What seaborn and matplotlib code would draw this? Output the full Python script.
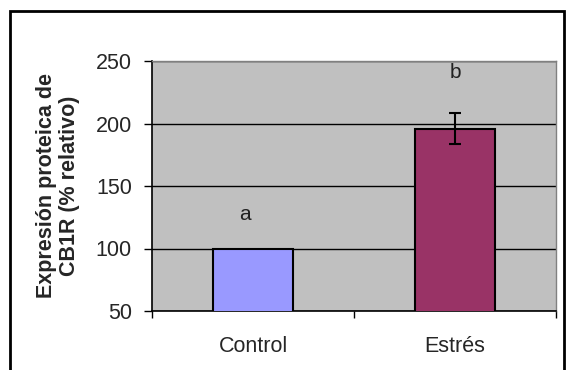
import matplotlib
matplotlib.use("Agg")
import matplotlib.pyplot as plt
import seaborn as sns
import pandas as pd
from matplotlib.patches import Rectangle

# data
grupos = ["Control", "Estrés"]
expresion = [100, 196]
error = [0, 12.5]
letras = ["a", "b"]
letra_y = [127, 241]
colores = ["#9999FF", "#993366"]

sns.set_style("white")
plt.rcParams["font.family"] = ["Liberation Sans", "DejaVu Sans"]

df = pd.DataFrame({"grupo": grupos, "valor": expresion})

fig = plt.figure(figsize=(5.67, 3.70), dpi=100)
# outer frame like the spreadsheet chart border
fig.patches.append(Rectangle((10 / 567, -0.05), 554 / 567, 1.05 - 11 / 370,
                             transform=fig.transFigure, fill=False,
                             edgecolor="black", linewidth=2))

ax = fig.add_axes([152 / 567, 59 / 370, 404 / 567, 250 / 370])
ax.set_facecolor("#C0C0C0")

sns.barplot(data=df, x="grupo", y="valor", hue="grupo", palette=colores,
            saturation=1, width=0.4, edgecolor="black", linewidth=1.5,
            legend=False, errorbar=None, ax=ax, zorder=3)

# error bar only on the stress group
ax.errorbar([1], [expresion[1]], yerr=[error[1]], fmt="none", ecolor="black",
            elinewidth=1.5, capsize=4, capthick=1.5, zorder=4)

for i, (t, yy) in enumerate(zip(letras, letra_y)):
    ax.text(i - 0.04 if i == 0 else i, yy, t, ha="center", va="center",
            fontsize=15, color="#222222")

ax.set_ylim(50, 250)
ax.set_xlim(-0.5, 1.5)
ax.set_yticks([50, 100, 150, 200, 250])
ax.yaxis.grid(True, color="black", linewidth=1, zorder=1)
ax.set_axisbelow(True)

ax.set_xticks([-0.5, 0.5, 1.5], minor=True)
ax.tick_params(axis="x", which="major", length=0, labelsize=15.5, pad=18)
ax.tick_params(axis="x", which="minor", length=5, width=1, color="black",
               direction="out", bottom=True)
ax.tick_params(axis="y", length=5.5, width=1, color="black", direction="out",
               left=True, labelsize=15.5, pad=9)

for s in ["top", "right"]:
    ax.spines[s].set_color("#808080")
    ax.spines[s].set_linewidth(1)
for s in ["left", "bottom"]:
    ax.spines[s].set_color("black")
    ax.spines[s].set_linewidth(1.2)

ax.set_xlabel("")
ax.set_ylabel("Expresión proteica de\nCB1R (% relativo)", fontsize=15.5,
              fontweight="bold", linespacing=1.15, labelpad=11)

fig.savefig("out.png", dpi=100)
